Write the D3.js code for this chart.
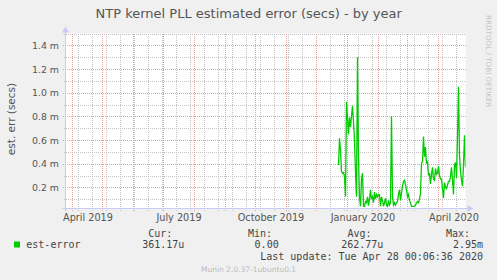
<!doctype html>
<html>
<head>
<meta charset="utf-8">
<title>NTP kernel PLL estimated error - by year</title>
<script src="https://cdn.jsdelivr.net/npm/d3@7"></script>
<style>
  body { margin: 0; background: #f0f0f0; }
  svg text { font-family: "DejaVu Sans", sans-serif; fill: #555; }
  svg text.mono { font-family: "DejaVu Sans Mono", monospace; fill: #444; }
</style>
</head>
<body>
<svg id="chart" width="497" height="280"></svg>
<script>
// daily averages of est-error, in milliseconds, first value is 2019-12-23
var firstDay = "2019-12-23";
var estErrMs = [
  0.389, 0.615, 0.516, 0.333, 0.319, 0.325, 0.291, 0.122, 0.924, 0.79,
  0.65, 0.79, 0.71, 0.80, 0.89, 0.75, 0.60, 0.33, 0.12, 1.30,
  0.45, 0.12, 0.04, 0.27, 0.32, 0.04, 0.04, 0.08, 0.07, 0.12,
  0.045, 0.10, 0.18, 0.10, 0.12, 0.07, 0.16, 0.10, 0.14, 0.12,
  0.14, 0.136, 0.04, 0.12, 0.09, 0.04, 0.07, 0.11, 0.05, 0.04,
  0.09, 0.05, 0.07, 0.80, 0.12, 0.05, 0.07, 0.05, 0.07, 0.08,
  0.14, 0.18, 0.09, 0.15, 0.21, 0.25, 0.26, 0.22, 0.18, 0.12,
  0.14, 0.09, 0.07, 0.04, 0.04, 0.04, 0.04, 0.05, 0.07, 0.08,
  0.07, 0.10, 0.15, 0.40, 0.42, 0.63, 0.46, 0.54, 0.40, 0.42,
  0.30, 0.32, 0.23, 0.31, 0.37, 0.27, 0.26, 0.36, 0.31, 0.32,
  0.38, 0.30, 0.27, 0.27, 0.19, 0.11, 0.24, 0.20, 0.19, 0.22,
  0.25, 0.25, 0.29, 0.37, 0.26, 0.14, 0.39, 0.41, 0.28, 0.63,
  1.05, 0.47, 0.33, 0.26, 0.21, 0.39, 0.64, 0.37
];

var monthLabels = ["April 2019", "July 2019", "October 2019", "January 2020", "April 2020"];
var labelMonths = ["2019-04-01", "2019-07-01", "2019-10-01", "2020-01-01", "2020-04-01"];
var legendHeads = ["Cur:", "Min:", "Avg:", "Max:"];
var legendValues = ["361.17u", "0.00", "262.77u", "2.95m"];
var lastUpdate = "Last update: Tue Apr 28 00:06:36 2020";

var svg = d3.select("#chart");
var W = 497, H = 280;
var pLeft = 65.5, pRight = 465.5, pTop = 33.5, pBottom = 208.5;

var endTime = new Date(Date.UTC(2020, 3, 28, 0, 6, 36));
var startTime = d3.utcDay.offset(endTime, -400);
var parseDay = d3.utcParse("%Y-%m-%d");
var day0 = parseDay(firstDay);

var x = d3.scaleUtc().domain([startTime, endTime]).range([pLeft, pRight]);
var y = d3.scaleLinear().domain([0.0215, 1.5]).range([pBottom, pTop]);

svg.append("rect").attr("width", W).attr("height", H).attr("fill", "#f0f0f0");
svg.append("rect").attr("x", pLeft).attr("y", pTop)
  .attr("width", pRight - pLeft).attr("height", pBottom - pTop).attr("fill", "#fff");

// grid
var grid = svg.append("g").attr("shape-rendering", "crispEdges");
var minorX = d3.utcDay.range(new Date(Date.UTC(2019, 3, 7)), endTime, 14);
var majorX = d3.utcMonth.range(startTime, endTime);
var yTicks = y.ticks(15);
var minorY = yTicks.filter(function(v) { return Math.round(v * 10) % 2 === 1; });
var majorY = yTicks.filter(function(v) { return Math.round(v * 10) % 2 === 0; });

grid.selectAll(".minx").data(minorX).enter().append("line")
  .attr("x1", function(d) { return Math.round(x(d)) + 0.5; })
  .attr("x2", function(d) { return Math.round(x(d)) + 0.5; })
  .attr("y1", pTop).attr("y2", pBottom + 2)
  .attr("stroke", "#c4c4c4").attr("stroke-dasharray", "1,1");
grid.selectAll(".miny").data(minorY).enter().append("line")
  .attr("x1", pLeft - 2).attr("x2", pRight)
  .attr("y1", function(d) { return Math.round(y(d)) + 0.5; })
  .attr("y2", function(d) { return Math.round(y(d)) + 0.5; })
  .attr("stroke", "#c4c4c4").attr("stroke-dasharray", "1,1");
grid.selectAll(".majx").data(majorX).enter().append("line")
  .attr("x1", function(d) { return Math.round(x(d)) + 0.5; })
  .attr("x2", function(d) { return Math.round(x(d)) + 0.5; })
  .attr("y1", pTop).attr("y2", pBottom + 3)
  .attr("stroke", "#f29a9a").attr("stroke-dasharray", "1,1");
grid.selectAll(".majy").data(majorY).enter().append("line")
  .attr("x1", pLeft - 3).attr("x2", pRight)
  .attr("y1", function(d) { return Math.round(y(d)) + 0.5; })
  .attr("y2", function(d) { return Math.round(y(d)) + 0.5; })
  .attr("stroke", "#f29a9a").attr("stroke-dasharray", "1,1");

// y labels
svg.selectAll(".ylab").data(majorY).enter().append("text")
  .attr("x", 59).attr("y", function(d) { return y(d) + 3.5; })
  .attr("text-anchor", "end").attr("font-size", 9.4)
  .text(function(d) { return d3.format(".1f")(d) + " m"; });

// x labels (centred on the middle of the month)
svg.selectAll(".xlab").data(labelMonths).enter().append("text")
  .attr("x", function(d) { return x(d3.utcHour.offset(parseDay(d), 372)); })
  .attr("y", 220.5).attr("text-anchor", "middle").attr("font-size", 9.7)
  .text(function(d, i) { return monthLabels[i]; });

// axes with arrows
var axisCol = "#c8ccf5";
svg.append("line").attr("x1", pLeft - 3).attr("x2", pRight + 3)
  .attr("y1", pBottom).attr("y2", pBottom).attr("stroke", axisCol);
svg.append("line").attr("x1", pLeft).attr("x2", pLeft)
  .attr("y1", pBottom + 3).attr("y2", pTop - 3).attr("stroke", axisCol);
svg.append("path").attr("d", "M" + (pRight + 8) + "," + pBottom + "l-6,-3.5v7z").attr("fill", axisCol);
svg.append("path").attr("d", "M" + pLeft + "," + (pTop - 7) + "l-3.5,6h7z").attr("fill", axisCol);

// data line
var line = d3.line()
  .x(function(d, i) { return x(d3.utcDay.offset(day0, i)); })
  .y(function(d) { return y(d); });
svg.append("clipPath").attr("id", "plot").append("rect")
  .attr("x", pLeft).attr("y", pTop).attr("width", pRight - pLeft).attr("height", pBottom - pTop);
svg.append("path").datum(estErrMs)
  .attr("clip-path", "url(#plot)")
  .attr("d", line).attr("fill", "none")
  .attr("stroke", "#00cc00").attr("stroke-width", 1.3);

// title and side texts
svg.append("text").attr("x", 248.7).attr("y", 18.3).attr("text-anchor", "middle")
  .attr("font-size", 13).text("NTP kernel PLL estimated error (secs) - by year");
svg.append("text").attr("transform", "translate(14.5,119) rotate(-90)")
  .attr("text-anchor", "middle").attr("font-size", 10.5).text("est. err (secs)");
svg.append("text").attr("transform", "translate(486,15) rotate(90)")
  .attr("font-size", 7.2).style("fill", "#c4c4c4").text("RRDTOOL / TOBI OETIKER");

// legend
svg.append("rect").attr("x", 14).attr("y", 241.5).attr("width", 6).attr("height", 6)
  .attr("fill", "#00cc00");
svg.append("text").attr("class", "mono").attr("x", 26.3).attr("y", 248.3)
  .attr("font-size", 10).text("est-error");
var headX = [172.3, 272, 371.5, 470];
var valX = [184.3, 278.7, 383.3, 483];
svg.selectAll(".lh").data(legendHeads).enter().append("text").attr("class", "mono")
  .attr("x", function(d, i) { return headX[i]; }).attr("y", 236.7)
  .attr("text-anchor", "end").attr("font-size", 10).text(function(d) { return d; });
svg.selectAll(".lv").data(legendValues).enter().append("text").attr("class", "mono")
  .attr("x", function(d, i) { return valX[i]; }).attr("y", 248.3)
  .attr("text-anchor", "end").attr("font-size", 10).text(function(d) { return d; });
svg.append("text").attr("class", "mono").attr("x", 483).attr("y", 260)
  .attr("text-anchor", "end").attr("font-size", 10).text(lastUpdate);
svg.append("text").attr("x", 248.5).attr("y", 272).attr("text-anchor", "middle")
  .attr("font-size", 7.5).style("fill", "#bbb").text("Munin 2.0.37-1ubuntu0.1");
</script>
</body>
</html>
